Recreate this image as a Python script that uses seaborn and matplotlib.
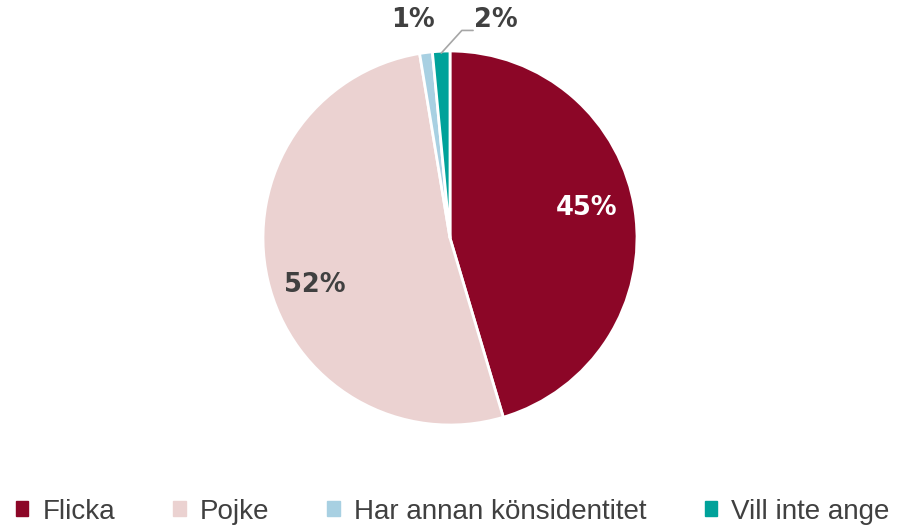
import numpy as np
import matplotlib
matplotlib.use("Agg")
import matplotlib.pyplot as plt
import seaborn as sns

categories = ["Flicka", "Pojke", "Har annan könsidentitet", "Vill inte ange"]
values = [45.4, 52.0, 1.1, 1.5]
labels = ["45%", "52%", "1%", "2%"]
colors = ["#8C0627", "#EBD2D1", "#A8D0E2", "#00A29A"]
label_colors = ["white", "#404040", "#404040", "#404040"]

sns.set_theme(style="white")
plt.rcParams["font.family"] = ["DejaVu Sans"]

fig = plt.figure(figsize=(9, 5.32), dpi=100)
R = 187
cx, cy = 450, 238
ax = fig.add_axes([(cx - R) / 900, (532 - cy - R) / 532, 2 * R / 900, 2 * R / 532])
wedges, _ = ax.pie(values, colors=colors, startangle=90, counterclock=False,
                   wedgeprops=dict(edgecolor="white", linewidth=2), radius=1.0)
ax.set_xlim(-1.0, 1.0)
ax.set_ylim(-1.0, 1.0)
ax.set_aspect("equal")
ax.axis("off")

for i, w in enumerate(wedges):
    mid = np.deg2rad((w.theta1 + w.theta2) / 2)
    if i < 2:
        r = 0.75
        ang = mid + (0.07 if i == 0 else 0.05)
        ax.text(r * np.cos(ang), r * np.sin(ang) - (0.0 if i == 0 else 0.045), labels[i],
                ha="center", va="center",
                fontsize=18.5, fontweight="bold", color=label_colors[i])
    elif i == 2:
        ax.text(1.165 * np.cos(mid) - 0.05, 1.165, labels[i], ha="center", va="center",
                fontsize=18.5, fontweight="bold", color=label_colors[i], clip_on=False)
    else:
        x0, y0 = 0.99 * np.cos(mid), 0.99 * np.sin(mid)
        xs = [x0, x0 + 0.11, x0 + 0.17]
        ys = [y0, 1.11, 1.11]
        ax.plot(xs, ys, color="#A6A6A6", lw=1.2, clip_on=False)
        ax.text(x0 + 0.175, 1.165, labels[i], ha="left", va="center", fontsize=18.5,
                fontweight="bold", color=label_colors[i], clip_on=False)

handles = [plt.Rectangle((0, 0), 1, 1, color=c) for c in colors]
leg = fig.legend(handles, categories, loc="center", bbox_to_anchor=(0.503, 0.038),
                 ncol=4, frameon=False, handlelength=0.45, handleheight=0.45,
                 handletextpad=0.5, columnspacing=2.1,
                 prop=dict(family=["Liberation Sans", "DejaVu Sans"], size=20))
for t in leg.get_texts():
    t.set_color("#404040")

fig.savefig("out.png", dpi=100, facecolor="white")
